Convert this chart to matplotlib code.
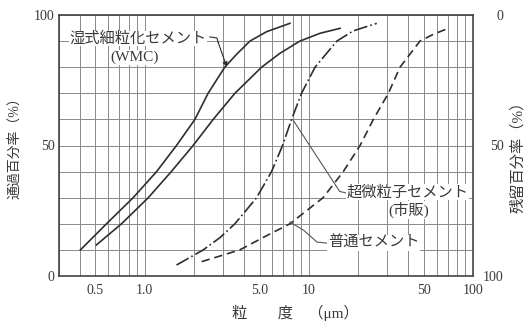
import matplotlib
matplotlib.use("Agg")
import matplotlib.pyplot as plt
import numpy as np
from matplotlib.ticker import LogLocator, NullFormatter, FixedLocator

plt.rcParams['font.family'] = ['Liberation Serif', 'Noto Sans CJK JP', 'DejaVu Sans']
plt.rcParams['lines.scale_dashes'] = False

# --- data (particle size in um, passing %) ---
wmc_x = [0.405, 0.584, 0.849, 1.18, 1.56, 2.02, 2.43, 3.07, 3.62, 4.37, 5.52, 7.66]
wmc_y = [10.0, 20.0, 30.0, 40.0, 50.0, 60.0, 70.0, 80.0, 84.9, 90.0, 93.6, 96.8]

solid2_x = [0.507, 0.721, 1.05, 1.45, 1.97, 2.61, 3.54, 5.15, 6.65, 8.81, 11.7, 15.5]
solid2_y = [11.9, 20.0, 30.0, 40.0, 50.0, 60.0, 70.0, 80.0, 85.3, 90.0, 93.0, 94.9]

ultra_x = [1.56, 2.27, 2.87, 3.54, 4.80, 5.92, 6.91, 7.84, 9.02, 10.9, 14.8, 18.6, 25.9]
ultra_y = [4.2, 10.0, 14.7, 20.0, 30.0, 40.0, 50.0, 60.0, 70.0, 80.0, 90.0, 93.9, 96.8]

normal_x = [2.22, 3.79, 5.39, 7.66, 12.2, 16.2, 20.5, 24.7, 30.5, 35.9, 47.5, 57.3, 70.7]
normal_y = [5.5, 10.0, 15.1, 20.0, 30.0, 40.0, 50.0, 60.0, 70.0, 80.0, 90.0, 92.6, 94.9]

xtick_vals = [0.5, 1.0, 5.0, 10, 50, 100]
xtick_labels = ['0.5', '1.0', '5.0', '10', '50', '100']
ytick_vals = [0, 50, 100]

ink = '#2e2e2e'
grid_c = '#8a8a8a'
txt_c = '#3a3a3a'

fig = plt.figure(figsize=(5.25, 3.28), dpi=100)
ax = fig.add_axes([59/525, 52/328, 414/525, 261/328])

ax.set_xscale('log')
ax.set_xlim(0.3, 100)
ax.set_ylim(0, 100)

ax.xaxis.set_major_locator(FixedLocator(xtick_vals))
ax.set_xticklabels(xtick_labels)
ax.xaxis.set_minor_locator(LogLocator(base=10, subs=np.arange(1, 10)))
ax.xaxis.set_minor_formatter(NullFormatter())
ax.set_yticks(ytick_vals)
ax.set_yticks(np.arange(0, 101, 10), minor=True)

ax.grid(True, which='both', color=grid_c, lw=0.7)
ax.tick_params(which='both', length=0, labelsize=10, colors=txt_c)
ax.tick_params(axis='x', pad=6)
ax.tick_params(axis='y', pad=3)
for s in ax.spines.values():
    s.set_color('#444444')
    s.set_linewidth(1.2)

ax.plot(wmc_x, wmc_y, color=ink, lw=1.2)
ax.plot(solid2_x, solid2_y, color=ink, lw=1.2)
ax.plot(ultra_x, ultra_y, color=ink, lw=1.2, dashes=(10, 2.2, 1.2, 2.2))
ax.plot(normal_x, normal_y, color=ink, lw=1.2, dashes=(6, 3.5))

# right axis: retained %
ax2 = ax.twinx()
ax2.set_ylim(100, 0)
ax2.set_yticks(ytick_vals)
ax2.tick_params(length=0, labelsize=10, colors=txt_c, pad=22)
for lab in ax2.get_yticklabels():
    lab.set_ha('right')
for s in ax2.spines.values():
    s.set_visible(False)

box = dict(facecolor='white', edgecolor='none', pad=0.6)
cjk = 11

# labels and leaders
ax.text(0.347, 91.0, '湿式細粒化セメント', fontsize=cjk, color=txt_c, ha='left', va='center', bbox=box)
ax.text(0.869, 83.9, '(WMC)', fontsize=cjk, color=txt_c, ha='center', va='center', bbox=box)
ax.plot([2.49, 2.75, 2.8], [91.6, 91.2, 89.5], color=ink, lw=0.8)
ax.annotate('', xy=(3.16, 80.1), xytext=(2.8, 89.5),
            arrowprops=dict(arrowstyle='-|>', color=ink, lw=0.8, mutation_scale=7,
                            shrinkA=0, shrinkB=0))

ax.plot([8.0, 15.4, 16.9], [59.8, 32.4, 31.8], color='#555555', lw=0.8)
ax.text(17.0, 32.2, '超微粒子セメント', fontsize=cjk, color=txt_c, ha='left', va='center', bbox=box)
ax.text(40.7, 25.3, '(市販)', fontsize=cjk, color=txt_c, ha='center', va='center', bbox=box)

ax.plot([7.66, 9.3, 11.2, 12.9], [20.7, 17.5, 13.0, 12.6], color='#555555', lw=0.8)
ax.text(13.1, 12.6, '普通セメント', fontsize=cjk, color=txt_c, ha='left', va='center', bbox=box)

fig.text(15/525, 1 - 145/328, '通過百分率（%）', rotation=90, fontsize=10, color=txt_c,
         ha='center', va='center')
fig.text(518/525, 1 - 153/328, '残留百分率（%）', rotation=90, fontsize=11, color=txt_c,
         ha='center', va='center')
fig.text(295/525, 1 - 313/328, '粒　　度　（μm）', fontsize=11, color=txt_c,
         ha='center', va='center')

fig.savefig('out.png', dpi=100, facecolor='white')
